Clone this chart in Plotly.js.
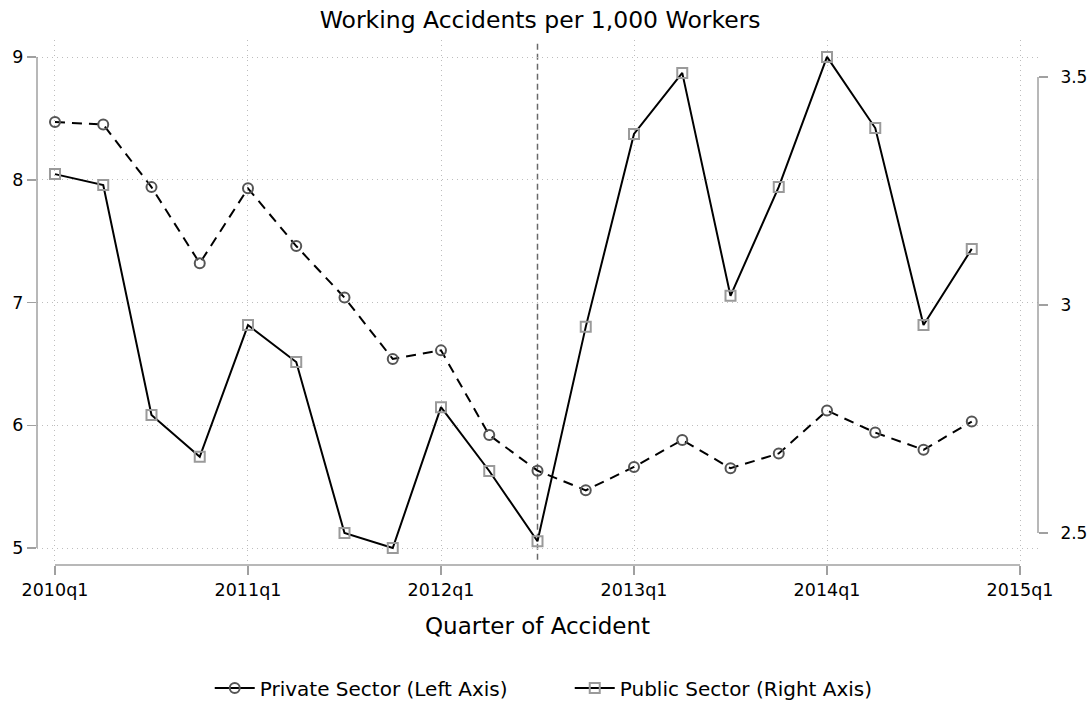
<!DOCTYPE html>
<html>
<head>
<meta charset="utf-8">
<script src="https://cdn.plot.ly/plotly-3.0.1.min.js"></script>
<style>html,body{margin:0;padding:0;background:#fff;}#chart{width:1089px;height:702px;}</style>
</head>
<body>
<div id="chart"></div>
<script>
// ---- data ----
const quarters = ['2010q1','2010q2','2010q3','2010q4','2011q1','2011q2','2011q3','2011q4',
                  '2012q1','2012q2','2012q3','2012q4','2013q1','2013q2','2013q3','2013q4',
                  '2014q1','2014q2','2014q3','2014q4'];
const privateSector = [8.47, 8.45, 7.94, 7.32, 7.93, 7.46, 7.04, 6.54,
                       6.61, 5.92, 5.63, 5.47, 5.66, 5.88, 5.65, 5.77,
                       6.12, 5.94, 5.80, 6.03];
const publicSector = [3.287, 3.263, 2.759, 2.667, 2.956, 2.875, 2.500, 2.467,
                      2.776, 2.636, 2.482, 2.952, 3.375, 3.509, 3.020, 3.259,
                      3.544, 3.388, 2.956, 3.123];
const xTickLabels = ['2010q1','2011q1','2012q1','2013q1','2014q1','2015q1'];
const leftTicks = [5, 6, 7, 8, 9];
const rightTicks = [2.5, 3, 3.5];
const rightTickLabels = ['2.5', '3', '3.5'];
const eventQuarter = '2012q3';
const privateName = 'Private Sector (Left Axis)';
const publicName = 'Public Sector (Right Axis)';

function qNum(q) { const y = parseInt(q.slice(0,4)); const k = parseInt(q.slice(5)); return y + (k - 1) / 4; }
const xs = quarters.map(qNum);
const xTickVals = xTickLabels.map(qNum);

const FONT = 'DejaVu Sans, Liberation Sans, Arial, sans-serif';
const axisGray = '#a0a0a0';
const privMarker = {symbol: 'circle-open', size: 10, color: '#555555', line: {width: 2, color: '#555555'}};
const pubMarker = {symbol: 'square-open', size: 10, color: '#9a9a9a', line: {width: 2, color: '#9a9a9a'}};

const traces = [
  {
    x: xs, y: privateSector, name: privateName, type: 'scatter', mode: 'lines+markers',
    yaxis: 'y', cliponaxis: false, showlegend: false,
    line: {color: '#000', width: 2, dash: '10px,7px'}, marker: privMarker
  },
  {
    x: xs, y: publicSector, name: publicName, type: 'scatter', mode: 'lines+markers',
    yaxis: 'y2', cliponaxis: false, showlegend: false,
    line: {color: '#000', width: 2}, marker: pubMarker
  },
  // legend keys (solid key lines as in the reference)
  {x: [null], y: [null], name: privateName, type: 'scatter', mode: 'lines+markers',
   line: {color: '#000', width: 2}, marker: privMarker, hoverinfo: 'skip'},
  {x: [null], y: [null], name: publicName, type: 'scatter', mode: 'lines+markers', yaxis: 'y2',
   line: {color: '#000', width: 2}, marker: pubMarker, hoverinfo: 'skip'}
];

const xRange = [xTickVals[0] - 0.0932, xTickVals[xTickVals.length - 1] + 0.0932];
const yRange = [4.8615, 9.1385];
const y2Range = [2.4298, 3.5811];

const layout = {
  width: 1089, height: 702,
  margin: {l: 37, r: 51, t: 40, b: 137, autoexpand: false},
  paper_bgcolor: '#fff', plot_bgcolor: '#fff',
  font: {family: FONT, color: '#000', size: 17},
  showlegend: true,
  title: {text: 'Working Accidents per 1,000 Workers', font: {family: FONT, size: 23.5, color: '#000'},
          x: 0.496, xref: 'container', xanchor: 'center', y: 0.9715, yref: 'container', yanchor: 'middle'},
  xaxis: {
    range: xRange, tickvals: xTickVals, ticktext: xTickLabels, automargin: false,
    showgrid: true, gridcolor: '#bdbdbd', griddash: '1px,4px', gridwidth: 1,
    zeroline: false, showline: false,
    ticks: 'outside', ticklen: 9, tickwidth: 1.5, tickcolor: axisGray,
    tickfont: {family: FONT, size: 17.5, color: '#000'},
    title: {text: 'Quarter of Accident', font: {family: FONT, size: 23, color: '#000'}, standoff: 18}
  },
  yaxis: {
    range: yRange, tickvals: leftTicks, ticktext: leftTicks.map(String), automargin: false,
    showgrid: true, gridcolor: '#bdbdbd', griddash: '1px,4px', gridwidth: 1,
    zeroline: false, showline: false,
    ticks: 'outside', ticklen: 9, tickwidth: 1.5, tickcolor: axisGray,
    tickfont: {family: FONT, size: 17.5, color: '#000'}
  },
  yaxis2: {
    overlaying: 'y', side: 'right', range: y2Range, automargin: false,
    tickvals: rightTicks, ticktext: rightTickLabels,
    showgrid: false, zeroline: false, showline: false,
    ticks: 'outside', ticklen: 9, tickwidth: 1.5, tickcolor: axisGray,
    ticklabelstandoff: 9,
    tickfont: {family: FONT, size: 17, color: '#000'}
  },
  legend: {
    orientation: 'h', xref: 'container', yref: 'container',
    x: 0.1926, xanchor: 'left', y: 0.02, yanchor: 'middle',
    font: {family: FONT, size: 20, color: '#000'}, bgcolor: 'rgba(0,0,0,0)',
    entrywidth: 305, entrywidthmode: 'pixels', itemwidth: 40
  },
  shapes: [
    // left axis line (spans the tick range only)
    {type: 'line', xref: 'paper', x0: 0, x1: 0, yref: 'y', y0: leftTicks[0], y1: leftTicks[leftTicks.length-1],
     line: {color: axisGray, width: 1.5}},
    // right axis line
    {type: 'line', xref: 'paper', x0: 1, x1: 1, yref: 'y2', y0: rightTicks[0], y1: rightTicks[rightTicks.length-1],
     line: {color: axisGray, width: 1.5}},
    // bottom axis line
    {type: 'line', xref: 'x', x0: xTickVals[0], x1: xTickVals[xTickVals.length-1], yref: 'paper', y0: 0, y1: 0,
     line: {color: axisGray, width: 1.5}},
    // event line
    {type: 'line', xref: 'x', x0: qNum(eventQuarter), x1: qNum(eventQuarter), yref: 'paper', y0: 0.01, y1: 1,
     line: {color: '#6a6a6a', width: 1.5, dash: '6px,4px'}, layer: 'below'}
  ]
};

Plotly.newPlot('chart', traces, layout, {displayModeBar: false, staticPlot: true});
</script>
</body>
</html>
